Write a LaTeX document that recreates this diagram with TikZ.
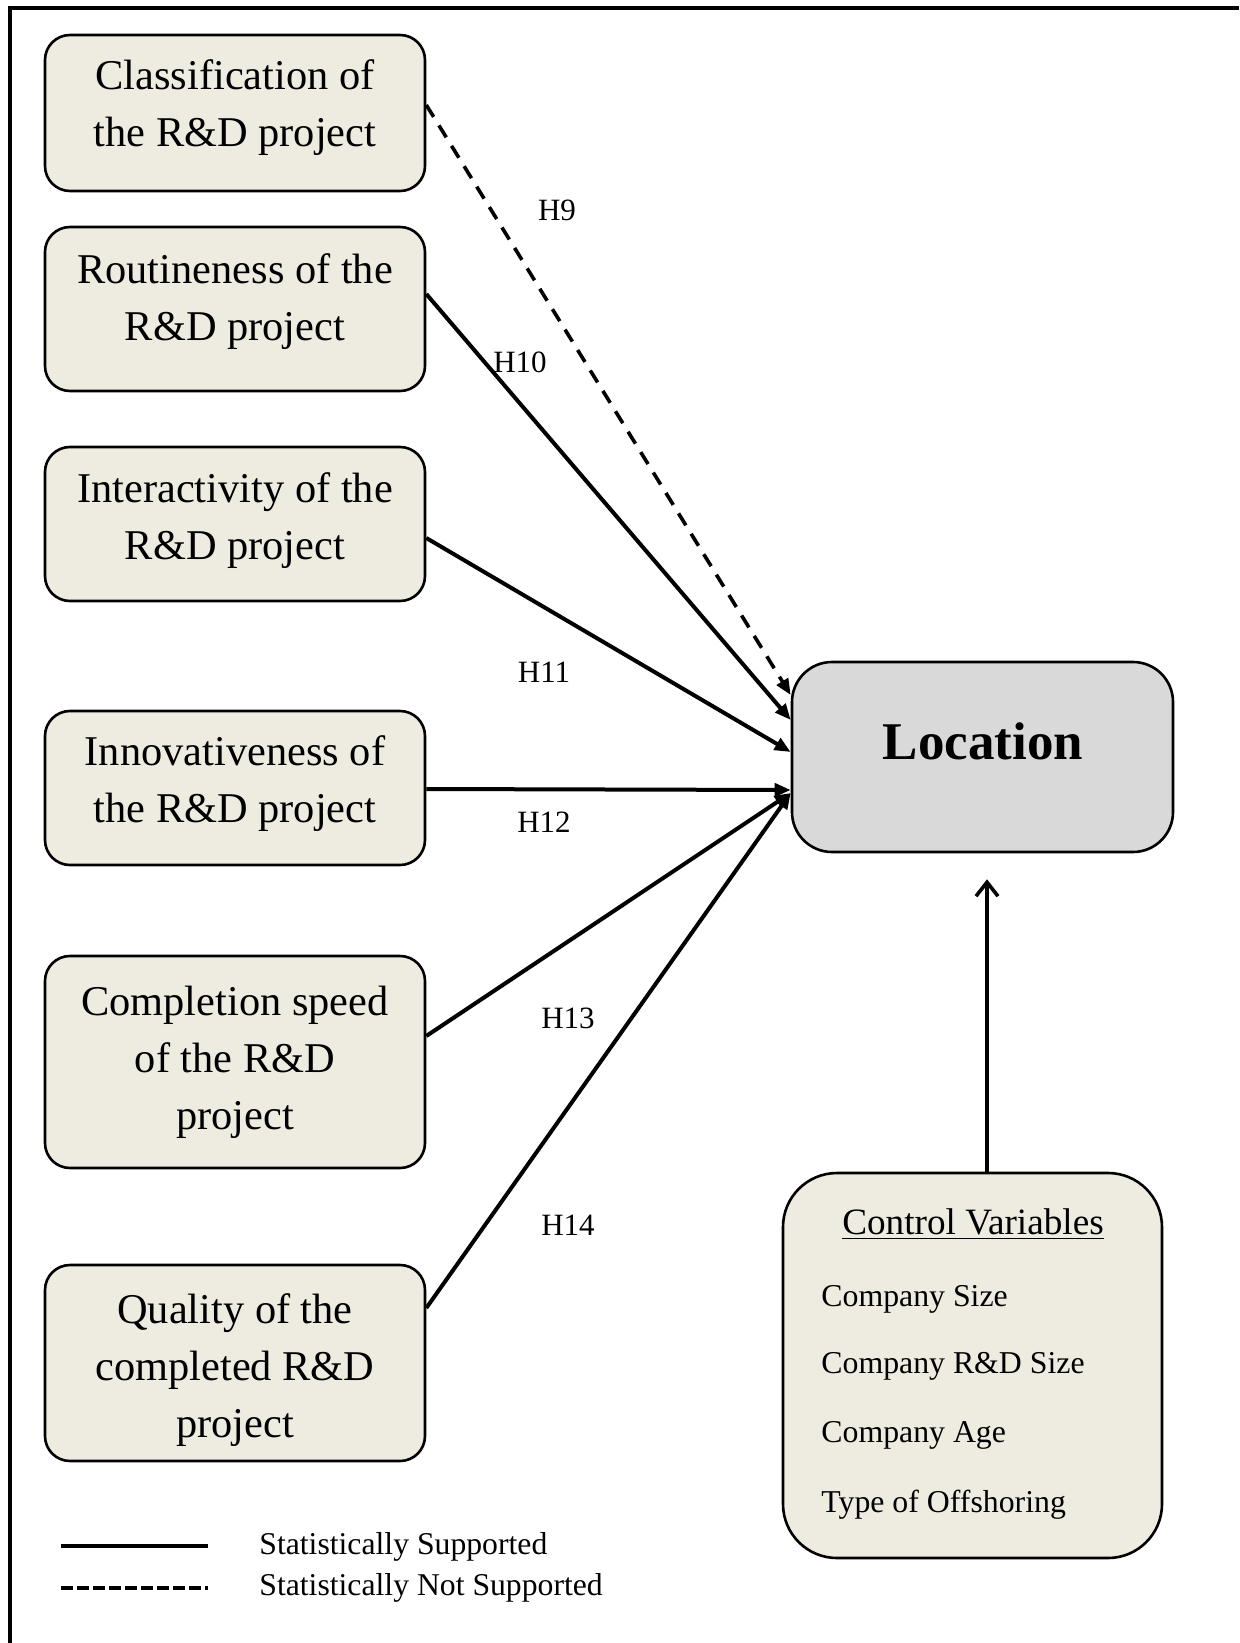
\documentclass[tikz,border=0pt]{standalone}
\usepackage{fontspec}
\setmainfont{Liberation Serif}
\usetikzlibrary{arrows.meta,calc}

\definecolor{boxfill}{RGB}{238,236,225}
\definecolor{locfill}{RGB}{217,217,217}

\begin{document}
\begin{tikzpicture}[x=0.5pt,y=-0.5pt,
  factor/.style={draw=black, line width=1.3pt, fill=boxfill,
    rounded corners=12.5pt, minimum width=190pt, inner sep=0pt},
  factortext/.style={align=center, inner sep=0pt,
    font=\fontsize{21.2}{28.5}\selectfont},
  hlabel/.style={inner sep=0pt, font=\fontsize{15.5}{18}\selectfont},
  ctrltext/.style={anchor=west, inner sep=0pt, font=\fontsize{15.9}{19}\selectfont},
  legtext/.style={anchor=west, inner sep=0pt, font=\fontsize{15.85}{18}\selectfont},
  supported/.style={line width=2pt, -{Triangle[length=8pt,width=6.5pt]}},
  notsupported/.style={line width=1.8pt, dash pattern=on 7pt off 5pt,
    -{Triangle[length=8pt,width=6.5pt]}},
]
\useasboundingbox (0,0) rectangle (1239,1643);

% outer frame (left and top edges)
\draw[line width=2pt, line join=miter] (10,1643) -- (10,8) -- (1239,8);

% independent variables
\node[factor, minimum height=78pt] (b1) at (235,113) {};
\node[factor, minimum height=82pt] (b2) at (235,309) {};
\node[factor, minimum height=77pt] (b3) at (235,524) {};
\node[factor, minimum height=77pt] (b4) at (235,788) {};
\node[factor, minimum height=106pt] (b5) at (235,1062) {};
\node[factor, minimum height=98pt] (b6) at (235,1363) {};

\node[factortext] (t1) at (235,108) {Classification of\\the R\&D project};
\node[factortext] (t2) at (235,302) {Routineness of the\\R\&D project};
\node[factortext] (t3) at (235,521) {Interactivity of the\\R\&D project};
\node[factortext] (t4) at (235,784) {Innovativeness of\\the R\&D project};
\node[factortext] (t5) at (235,1062) {Completion speed\\of the R\&D\\project};
\node[factortext] (t6) at (235,1370) {Quality of the\\completed R\&D\\project};

% dependent variable
\node[draw=black, line width=1.3pt, fill=locfill, rounded corners=20pt,
  minimum width=190.5pt, minimum height=95pt, inner sep=0pt] (loc) at (982.5,757) {};
\node[inner sep=0pt, font=\fontsize{26.5}{30}\selectfont\bfseries] (loctext) at (983,741) {Location};

% control variables
\node[draw=black, line width=1.3pt, fill=boxfill, rounded corners=27pt,
  minimum width=189.5pt, minimum height=192.5pt, inner sep=0pt] (ctrl) at (972.5,1365.5) {};
\node[inner sep=0pt, font=\fontsize{18.6}{22}\selectfont] (ctitle) at (973,1224) {\underline{Control Variables}};
\node[ctrltext] (c1) at (821,1299) {Company Size};
\node[ctrltext] (c2) at (821,1366) {Company R\&D Size};
\node[ctrltext] (c3) at (821,1435) {Company Age};
\node[ctrltext] (c4) at (821,1505) {Type of Offshoring};

% hypothesised paths
\draw[notsupported] ($(b1.east)+(0,-8)$) -- ($(loc.west)+(0,-62)$);
\draw[supported] ($(b2.east)+(0,-15)$) -- ($(loc.west)+(0,-37)$);
\draw[supported] ($(b3.east)+(0,14)$) -- ($(loc.west)+(0,-5)$);
\draw[supported] ($(b4.east)+(0,1)$) -- ($(loc.west)+(0,33)$);
\draw[supported] ($(b5.east)+(0,-26)$) -- ($(loc.west)+(0,36)$);
\draw[supported] ($(b6.east)+(0,-55)$) -- ($(loc.west)+(0,36)$);

% path labels
\node[hlabel] (h9)  at (557,210)  {H9};
\node[hlabel] (h10) at (520,362)  {H10};
\node[hlabel] (h11) at (544,672)  {H11};
\node[hlabel] (h12) at (544,822)  {H12};
\node[hlabel] (h13) at (568,1018) {H13};
\node[hlabel] (h14) at (568,1225) {H14};

% control variables acting on location
\coordinate (ctip) at ($(loc.south)+(4.5,26)$);
\draw[line width=1.8pt, -{Straight Barb[length=7pt,width=11pt]}]
  ($(ctrl.north)+(14.5,0)$) -- (ctip);

% legend
\coordinate (ls1) at (61,1546);
\coordinate (ls2) at (208,1546);
\coordinate (ld1) at (61,1588);
\coordinate (ld2) at (208,1588);
\draw[line width=2pt] (ls1) -- (ls2);
\draw[line width=1.6pt, dash pattern=on 6pt off 2pt] (ld1) -- (ld2);
\node[legtext] (lg1) at (259,1547) {Statistically Supported};
\node[legtext] (lg2) at (259,1588) {Statistically Not Supported};
\end{tikzpicture}
\end{document}
